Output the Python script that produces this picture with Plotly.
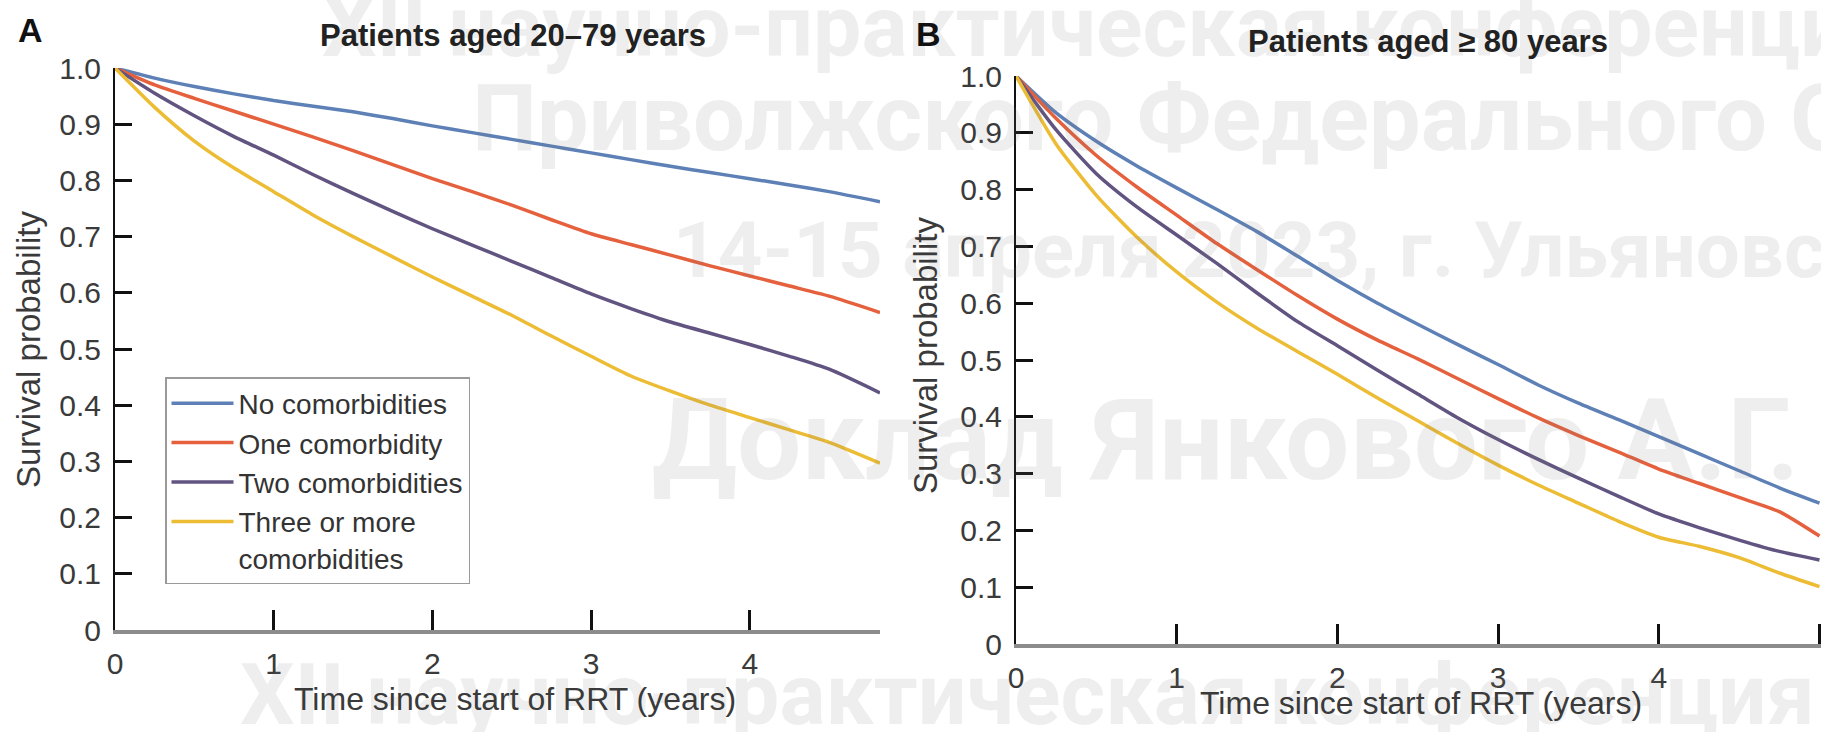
import plotly.graph_objects as go

W, H = 1821, 732

# ---------------- data ----------------
series_names = ["No comorbidities", "One comorbidity", "Two comorbidities",
                "Three or more<br>comorbidities"]
colors = ["#5d80b6", "#e5603c", "#615480", "#ecbc34"]

# Panel A: patients aged 20-79 years
t_a = [0, 0.25, 0.5, 0.75, 1, 1.25, 1.5, 1.75, 2, 2.25, 2.5, 2.75, 3, 3.25,
       3.5, 3.75, 4, 4.25, 4.5, 4.82]
a_none = [1.0, 0.982, 0.967, 0.954, 0.942, 0.932, 0.922, 0.910, 0.897, 0.885,
          0.873, 0.861, 0.849, 0.837, 0.825, 0.814, 0.803, 0.792, 0.780, 0.762]
a_one = [1.0, 0.970, 0.946, 0.923, 0.900, 0.877, 0.853, 0.828, 0.803, 0.780,
         0.756, 0.730, 0.705, 0.686, 0.667, 0.648, 0.630, 0.612, 0.594, 0.565]
a_two = [1.0, 0.955, 0.915, 0.878, 0.845, 0.810, 0.777, 0.745, 0.714, 0.685,
         0.656, 0.627, 0.598, 0.572, 0.548, 0.528, 0.508, 0.487, 0.464, 0.422]
a_three = [1.0, 0.930, 0.870, 0.822, 0.780, 0.738, 0.700, 0.664, 0.628, 0.594,
           0.560, 0.523, 0.487, 0.452, 0.425, 0.400, 0.378, 0.356, 0.334, 0.297]

# Panel B: patients aged >= 80 years
t_b = [0, 0.25, 0.5, 0.75, 1, 1.25, 1.5, 1.75, 2, 2.25, 2.5, 2.75, 3, 3.25,
       3.5, 3.75, 4, 4.25, 4.5, 4.75, 5.0]
b_none = [1.0, 0.935, 0.885, 0.842, 0.803, 0.765, 0.726, 0.683, 0.640, 0.600,
          0.563, 0.527, 0.492, 0.456, 0.424, 0.395, 0.365, 0.335, 0.305, 0.275, 0.248]
b_one = [1.0, 0.925, 0.860, 0.805, 0.755, 0.705, 0.659, 0.614, 0.572, 0.535,
         0.502, 0.467, 0.432, 0.398, 0.367, 0.338, 0.308, 0.283, 0.258, 0.233, 0.190]
b_two = [1.0, 0.905, 0.828, 0.770, 0.720, 0.670, 0.618, 0.568, 0.525, 0.482,
         0.440, 0.398, 0.360, 0.325, 0.292, 0.260, 0.229, 0.205, 0.183, 0.163, 0.148]
b_three = [1.0, 0.880, 0.790, 0.717, 0.655, 0.602, 0.556, 0.515, 0.475, 0.433,
           0.393, 0.353, 0.315, 0.280, 0.248, 0.216, 0.188, 0.172, 0.152, 0.125, 0.101]

y_tickvals = [0, 0.1, 0.2, 0.3, 0.4, 0.5, 0.6, 0.7, 0.8, 0.9, 1.0]
y_ticktext = ["0", "0.1", "0.2", "0.3", "0.4", "0.5", "0.6", "0.7", "0.8", "0.9", "1.0"]
x_tickvals_a = [0, 1, 2, 3, 4]
x_tickvals_b = [0, 1, 2, 3, 4, 5]

title_a = "Patients aged 20–79 years"
title_b = "Patients aged ≥ 80 years"
x_title = "Time since start of RRT (years)"
y_title = "Survival probability"

watermark = [
    ("XII научно-практическая конференция", 320, 27, 86),
    ("Приволжского Федерального Округа", 470, 118, 92),
    ("14-15 апреля 2023, г. Ульяновск", 671, 250, 78),
    ("Доклад Янкового А.Г.", 650, 440, 114),
    ("XII научно-практическая конференция", 238, 694, 86),
]

# ---------------- figure ----------------
FONT = "Liberation Sans, Arial, Helvetica, sans-serif"
fig = go.Figure()

for name, col, ys in zip(series_names, colors, [a_none, a_one, a_two, a_three]):
    fig.add_trace(go.Scatter(x=t_a, y=ys, mode="lines", name=name,
                             line=dict(color=col, width=3.5, shape="spline", smoothing=0.6),
                             xaxis="x", yaxis="y", showlegend=True))
for name, col, ys in zip(series_names, colors, [b_none, b_one, b_two, b_three]):
    fig.add_trace(go.Scatter(x=t_b, y=ys, mode="lines", name=name,
                             line=dict(color=col, width=3.5, shape="spline", smoothing=0.6),
                             xaxis="x2", yaxis="y2", showlegend=False))

def xax(domain, rng, tickvals):
    return dict(domain=domain, range=rng, tickvals=tickvals, ticks="inside",
                ticklen=20, tickwidth=3, tickcolor="#111", showline=True,
                linecolor="#8c8c8c", linewidth=4, showgrid=False, zeroline=False,
                tickfont=dict(family=FONT, size=30, color="#3a3a3a"),
                ticklabelstandoff=4, fixedrange=True, automargin=False)

def yax(domain, anchor):
    return dict(domain=domain, range=[0, 1], tickvals=y_tickvals, ticktext=y_ticktext,
                ticks="inside", ticklen=17, tickwidth=3, tickcolor="#111",
                showline=True, linecolor="#111", linewidth=2, showgrid=False,
                zeroline=False, anchor=anchor,
                tickfont=dict(family=FONT, size=30, color="#3a3a3a"),
                ticklabelstandoff=6, fixedrange=True, automargin=False)

fig.update_layout(
    template="none",
    width=W, height=H,
    margin=dict(l=0, r=0, t=0, b=0, pad=0, autoexpand=False),
    paper_bgcolor="white", plot_bgcolor="white",
    xaxis=xax([115 / W, 880 / W], [0, 4.82], x_tickvals_a) | dict(anchor="y"),
    yaxis=yax([(H - 630) / H, (H - 68) / H], "x"),
    xaxis2=xax([1016 / W, 1.0], [0, (W - 1016) / 160.7], x_tickvals_b) | dict(anchor="y2"),
    yaxis2=yax([(H - 644) / H, (H - 76) / H], "x2"),
    legend=dict(x=165 / W, y=1 - 377 / H, xanchor="left", yanchor="top",
                bgcolor="white", bordercolor="#9a9a9a", borderwidth=1.5,
                font=dict(family=FONT, size=28, color="#333"),
                itemwidth=62, tracegroupgap=0, valign="top"),
)

ann = []
def add_text(text, x, y, size, bold=False, angle=0, color="#222", xanchor="center", family=FONT):
    ann.append(dict(text=f"<b>{text}</b>" if bold else text, x=x / W, y=1 - y / H,
                    xref="paper", yref="paper", showarrow=False, textangle=angle,
                    xanchor=xanchor, yanchor="middle",
                    font=dict(family=family, size=size, color=color)))

for text, x, y, size in watermark:
    add_text(f"{text}", x, y, size, bold=True, color="rgba(120,120,120,0.13)",
             xanchor="left", family="Roboto, Noto Sans, sans-serif")

add_text("A", 30, 30, 34, bold=True, color="#111")
add_text("B", 928, 34, 34, bold=True, color="#111")
add_text(title_a, 513, 35, 31, bold=True)
add_text(title_b, 1428, 41, 31, bold=True)
add_text(y_title, 28, 350, 33, angle=-90, color="#3a3a3a")
add_text(y_title, 925, 356, 33, angle=-90, color="#3a3a3a")
add_text(x_title, 515, 699, 32, color="#3a3a3a")
add_text(x_title, 1421, 703, 32, color="#3a3a3a")

fig.update_layout(annotations=ann)
fig.write_html("out.html")
